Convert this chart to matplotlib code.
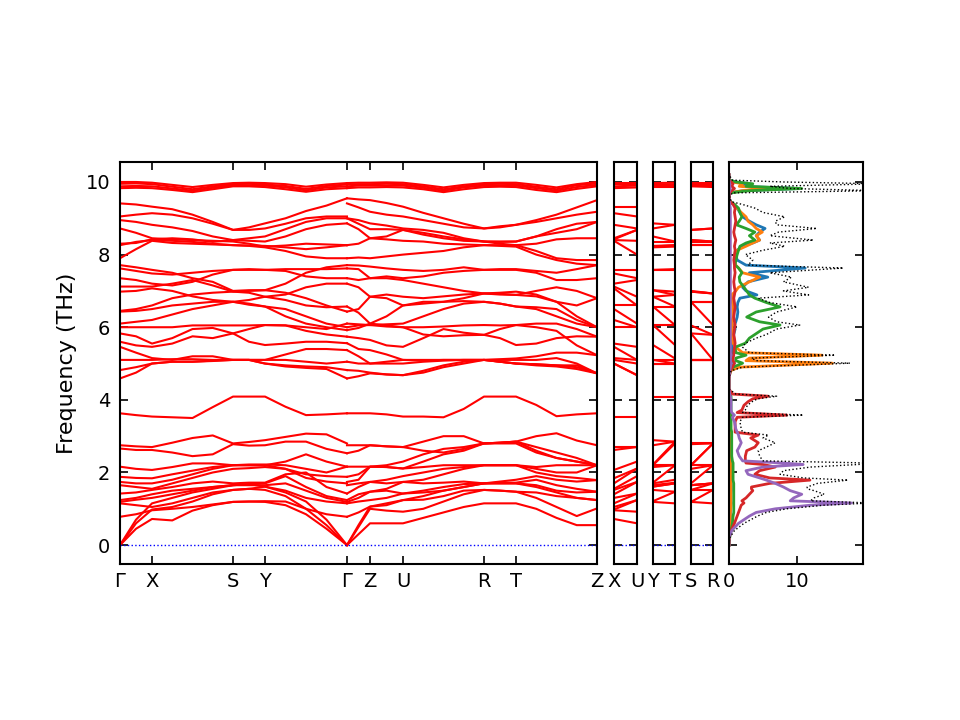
import numpy as np
import matplotlib
matplotlib.use('Agg')
import matplotlib.pyplot as plt

plt.rcParams['font.size'] = 13
plt.rcParams['axes.linewidth'] = 1.5

# k-path: segment lengths and number of sampled steps in each segment
seg_a = [1.0, 2.53, 1.0, 2.56]          # G-X, X-S, S-Y, Y-G
steps_a = [2, 4, 2, 4]
labels_a = ['Γ', 'X', 'S', 'Y', 'Γ']
seg_b = [0.72, 1.03, 2.53, 1.0, 2.53]   # G-Z, Z-U, U-R, R-T, T-Z
steps_b = [2, 2, 4, 2, 4]
labels_b = ['Γ', 'Z', 'U', 'R', 'T', 'Z']
side_len = 0.72
side_labels = [('X', 'U'), ('Y', 'T'), ('S', 'R')]
# which node of path A / path B is the start / end of each side panel
side_nodes = [(2, 4), (8, 10), (6, 8)]

# frequencies (THz) along G-X-S-Y-G, 13 nodes
bands_a = [
    [0, 0.45, 0.72, 0.68, 0.95, 1.1, 1.19, 1.2, 1.19, 1.1, 0.85, 0.45, 0],
    [0, 0.6, 0.98, 1.05, 1.2, 1.4, 1.52, 1.55, 1.52, 1.35, 1.0, 0.55, 0],
    [0, 0.7, 1.15, 1.3, 1.45, 1.55, 1.65, 1.68, 1.61, 1.45, 1.2, 0.7, 0],
    [0.78, 0.85, 0.96, 1.0, 1.05, 1.12, 1.19, 1.2, 1.21, 1.2, 1.0, 0.85, 0.78],
    [1.15, 1.1, 1.05, 1.15, 1.3, 1.45, 1.52, 1.55, 1.61, 1.5, 1.3, 1.2, 1.15],
    [1.19, 1.25, 1.3, 1.4, 1.5, 1.6, 1.65, 1.65, 1.65, 1.7, 1.5, 1.3, 1.19],
    [1.24, 1.3, 1.4, 1.5, 1.55, 1.6, 1.65, 1.68, 1.7, 1.9, 1.6, 1.35, 1.24],
    [1.42, 1.45, 1.52, 1.6, 1.7, 1.75, 1.7, 1.72, 1.72, 1.95, 2.0, 1.6, 1.42],
    [1.65, 1.6, 1.55, 1.7, 1.85, 2.0, 2.1, 2.12, 2.15, 2.1, 1.85, 1.75, 1.7],
    [1.74, 1.7, 1.7, 1.8, 1.95, 2.1, 2.2, 2.2, 2.2, 2.1, 1.95, 1.9, 1.88],
    [1.88, 1.85, 1.84, 1.95, 2.05, 2.15, 2.2, 2.22, 2.22, 2.2, 2.1, 2.0, 2.16],
    [2.16, 2.1, 2.07, 2.15, 2.25, 2.25, 2.2, 2.2, 2.2, 2.3, 2.5, 2.3, 2.16],
    [2.66, 2.62, 2.62, 2.55, 2.45, 2.5, 2.78, 2.74, 2.75, 2.85, 2.85, 2.65, 2.53],
    [2.75, 2.72, 2.7, 2.82, 2.95, 3.02, 2.8, 2.84, 2.89, 2.98, 3.07, 3.05, 2.8],
    [3.63, 3.58, 3.54, 3.52, 3.5, 3.8, 4.09, 4.09, 4.09, 3.81, 3.58, 3.6, 3.63],
    [4.59, 4.75, 5.0, 5.05, 5.05, 5.07, 5.1, 5.1, 5.0, 4.92, 4.88, 4.85, 4.59],
    [4.82, 4.9, 5.0, 5.05, 5.05, 5.08, 5.1, 5.1, 5.0, 4.95, 4.92, 4.9, 4.82],
    [5.1, 5.1, 5.1, 5.12, 5.12, 5.1, 5.1, 5.1, 5.1, 5.1, 5.05, 5.0, 5.05],
    [5.46, 5.3, 5.15, 5.1, 5.2, 5.2, 5.1, 5.1, 5.1, 5.25, 5.4, 5.4, 5.37],
    [5.6, 5.5, 5.46, 5.55, 5.75, 5.7, 5.83, 5.6, 5.51, 5.55, 5.6, 5.6, 5.56],
    [5.83, 5.75, 5.55, 5.7, 5.95, 5.98, 5.83, 5.95, 6.06, 6.05, 5.9, 5.8, 5.74],
    [6.0, 6.0, 6.0, 6.0, 6.05, 6.05, 6.05, 6.05, 6.06, 6.05, 6.0, 5.95, 6.1],
    [6.1, 6.15, 6.2, 6.35, 6.5, 6.6, 6.7, 6.62, 6.57, 6.3, 6.1, 6.0, 5.92],
    [6.43, 6.45, 6.5, 6.6, 6.65, 6.7, 6.7, 6.65, 6.57, 6.5, 6.3, 6.1, 6.0],
    [6.45, 6.5, 6.6, 6.8, 6.9, 6.95, 6.98, 7.0, 7.02, 6.95, 6.8, 6.6, 6.43],
    [6.98, 7.0, 7.07, 7.0, 6.85, 6.75, 6.7, 6.75, 6.84, 6.75, 6.6, 6.55, 6.57],
    [7.12, 7.12, 7.12, 7.2, 7.3, 7.15, 6.98, 6.95, 6.84, 6.9, 7.1, 7.2, 7.2],
    [7.35, 7.3, 7.2, 7.15, 7.25, 7.45, 7.58, 7.58, 7.58, 7.55, 7.4, 7.35, 7.35],
    [7.62, 7.55, 7.48, 7.45, 7.5, 7.55, 7.58, 7.6, 7.58, 7.6, 7.6, 7.6, 7.62],
    [7.71, 7.65, 7.58, 7.5, 7.35, 7.25, 7.0, 7.02, 7.02, 7.2, 7.5, 7.65, 7.71],
    [7.9, 8.15, 8.38, 8.32, 8.3, 8.28, 8.26, 8.25, 8.24, 8.2, 8.15, 8.2, 8.26],
    [8.26, 8.35, 8.4, 8.38, 8.35, 8.3, 8.26, 8.24, 8.2, 8.1, 7.95, 7.9, 7.9],
    [8.3, 8.32, 8.42, 8.45, 8.42, 8.35, 8.4, 8.45, 8.5, 8.7, 8.9, 9.0, 9.0],
    [8.72, 8.6, 8.45, 8.42, 8.4, 8.38, 8.36, 8.3, 8.22, 8.25, 8.3, 8.28, 8.26],
    [8.95, 8.9, 8.82, 8.75, 8.65, 8.5, 8.4, 8.38, 8.36, 8.5, 8.7, 8.82, 8.86],
    [9.05, 9.1, 9.14, 9.1, 9.0, 8.85, 8.68, 8.68, 8.72, 8.85, 9.0, 9.05, 9.05],
    [9.41, 9.38, 9.32, 9.25, 9.1, 8.9, 8.68, 8.75, 8.86, 9.0, 9.2, 9.35, 9.55],
    [9.83, 9.84, 9.83, 9.78, 9.72, 9.8, 9.88, 9.88, 9.86, 9.8, 9.73, 9.8, 9.83],
    [9.88, 9.89, 9.88, 9.82, 9.76, 9.84, 9.91, 9.91, 9.9, 9.85, 9.77, 9.85, 9.88],
    [9.95, 9.96, 9.94, 9.87, 9.8, 9.88, 9.94, 9.95, 9.93, 9.89, 9.81, 9.89, 9.93],
    [10.0, 10.0, 9.98, 9.92, 9.86, 9.92, 9.97, 9.98, 9.97, 9.94, 9.87, 9.93, 9.97],
]

# frequencies (THz) along G-Z-U-R-T-Z, 15 nodes
bands_b = [
    [0, 0.3, 0.6, 0.6, 0.6, 0.75, 0.9, 1.05, 1.15, 1.15, 1.15, 1.0, 0.75, 0.55, 0.55],
    [0, 0.5, 1.0, 0.95, 0.92, 1.0, 1.2, 1.4, 1.52, 1.5, 1.47, 1.3, 1.05, 0.8, 1.01],
    [0, 0.55, 1.06, 1.1, 1.24, 1.35, 1.5, 1.6, 1.7, 1.7, 1.7, 1.6, 1.45, 1.3, 1.24],
    [0.78, 0.9, 1.06, 1.15, 1.24, 1.25, 1.35, 1.5, 1.52, 1.5, 1.47, 1.45, 1.35, 1.3, 1.24],
    [1.15, 1.2, 1.24, 1.3, 1.42, 1.45, 1.5, 1.6, 1.7, 1.7, 1.7, 1.65, 1.5, 1.45, 1.47],
    [1.19, 1.3, 1.47, 1.5, 1.42, 1.5, 1.6, 1.68, 1.7, 1.72, 1.72, 1.8, 1.65, 1.55, 1.47],
    [1.24, 1.4, 1.47, 1.55, 1.74, 1.7, 1.72, 1.75, 1.7, 1.75, 1.8, 1.9, 1.8, 1.75, 1.79],
    [1.42, 1.6, 1.74, 1.7, 1.74, 1.8, 1.95, 2.1, 2.2, 2.2, 2.2, 2.0, 1.9, 1.85, 1.79],
    [1.65, 1.7, 1.74, 1.8, 1.9, 2.0, 2.1, 2.15, 2.2, 2.2, 2.2, 2.1, 2.0, 2.0, 2.2],
    [1.74, 1.8, 2.16, 2.15, 2.11, 2.15, 2.2, 2.2, 2.2, 2.2, 2.2, 2.15, 2.2, 2.2, 2.2],
    [1.88, 1.95, 2.16, 2.15, 2.11, 2.3, 2.5, 2.6, 2.8, 2.82, 2.85, 2.6, 2.4, 2.3, 2.2],
    [2.16, 2.16, 2.16, 2.2, 2.3, 2.5, 2.65, 2.7, 2.8, 2.8, 2.8, 2.55, 2.4, 2.3, 2.2],
    [2.53, 2.6, 2.75, 2.72, 2.7, 2.6, 2.55, 2.65, 2.8, 2.82, 2.85, 2.7, 2.55, 2.4, 2.2],
    [2.75, 2.75, 2.75, 2.72, 2.7, 2.85, 3.0, 3.0, 2.8, 2.82, 2.85, 3.0, 3.08, 2.88, 2.75],
    [3.63, 3.63, 3.63, 3.6, 3.54, 3.54, 3.52, 3.75, 4.09, 4.09, 4.09, 3.86, 3.55, 3.6, 3.63],
    [4.59, 4.65, 4.73, 4.7, 4.68, 4.75, 4.9, 5.0, 5.1, 5.05, 5.0, 4.95, 4.92, 4.85, 4.73],
    [4.82, 4.8, 4.75, 4.7, 4.68, 4.8, 4.95, 5.05, 5.1, 5.05, 5.0, 4.98, 4.95, 4.9, 4.73],
    [5.05, 5.0, 5.0, 5.0, 5.0, 5.05, 5.08, 5.1, 5.1, 5.05, 5.0, 4.98, 4.95, 4.95, 4.73],
    [5.37, 5.2, 5.0, 5.05, 5.1, 5.08, 5.1, 5.1, 5.1, 5.1, 5.1, 5.1, 5.15, 5.0, 4.73],
    [5.56, 5.4, 5.37, 5.25, 5.1, 5.1, 5.1, 5.1, 5.1, 5.12, 5.14, 5.2, 5.3, 5.3, 5.23],
    [5.74, 5.7, 5.65, 5.5, 5.46, 5.7, 5.95, 5.85, 5.79, 5.95, 6.06, 6.0, 5.9, 5.5, 5.23],
    [6.1, 6.08, 6.06, 6.02, 6.0, 5.8, 5.75, 5.78, 5.79, 5.7, 5.51, 5.55, 5.7, 5.75, 5.74],
    [5.92, 5.98, 6.1, 6.05, 6.0, 6.0, 6.02, 6.05, 6.06, 6.05, 6.06, 6.1, 6.1, 5.95, 5.74],
    [6.0, 6.05, 6.06, 6.08, 6.1, 6.3, 6.5, 6.65, 6.7, 6.65, 6.57, 6.55, 6.5, 6.2, 6.0],
    [6.43, 6.5, 6.84, 6.8, 6.6, 6.65, 6.7, 6.8, 6.93, 6.95, 6.98, 6.9, 6.7, 6.6, 6.8],
    [6.57, 6.4, 6.1, 6.3, 6.6, 6.7, 6.7, 6.72, 6.7, 6.65, 6.57, 6.5, 6.3, 6.1, 6.0],
    [7.2, 7.1, 6.84, 6.9, 6.84, 6.8, 6.85, 6.9, 6.93, 6.92, 6.89, 6.85, 6.7, 6.3, 6.0],
    [7.35, 7.3, 7.35, 7.35, 7.3, 7.2, 7.1, 7.0, 6.93, 6.9, 6.89, 7.0, 7.1, 7.0, 6.8],
    [7.62, 7.6, 7.35, 7.4, 7.35, 7.4, 7.5, 7.55, 7.58, 7.58, 7.58, 7.5, 7.3, 7.3, 7.35],
    [7.71, 7.7, 7.67, 7.62, 7.58, 7.55, 7.58, 7.65, 7.58, 7.6, 7.6, 7.55, 7.5, 7.6, 7.71],
    [7.9, 7.92, 7.9, 7.95, 8.0, 8.05, 8.1, 8.2, 8.26, 8.24, 8.22, 8.0, 7.85, 7.75, 7.71],
    [8.26, 8.3, 8.45, 8.42, 8.38, 8.36, 8.3, 8.28, 8.26, 8.26, 8.26, 8.1, 7.9, 7.85, 7.85],
    [9.0, 8.85, 8.7, 8.7, 8.68, 8.55, 8.45, 8.38, 8.36, 8.35, 8.36, 8.5, 8.6, 8.7, 8.9],
    [8.86, 8.7, 8.45, 8.5, 8.68, 8.6, 8.5, 8.42, 8.36, 8.3, 8.26, 8.3, 8.42, 8.45, 8.45],
    [9.0, 8.95, 8.86, 8.8, 8.72, 8.68, 8.6, 8.45, 8.36, 8.36, 8.36, 8.5, 8.7, 8.85, 8.9],
    [9.41, 9.3, 9.18, 9.1, 9.05, 8.95, 8.85, 8.75, 8.72, 8.78, 8.82, 8.9, 9.0, 9.1, 9.18],
    [9.55, 9.52, 9.5, 9.42, 9.32, 9.15, 9.0, 8.85, 8.72, 8.75, 8.82, 8.95, 9.1, 9.3, 9.5],
    [9.83, 9.85, 9.85, 9.86, 9.85, 9.8, 9.72, 9.8, 9.86, 9.87, 9.86, 9.78, 9.72, 9.81, 9.88],
    [9.88, 9.9, 9.9, 9.9, 9.9, 9.84, 9.76, 9.85, 9.9, 9.91, 9.9, 9.83, 9.76, 9.86, 9.92],
    [9.93, 9.94, 9.94, 9.95, 9.94, 9.88, 9.8, 9.88, 9.94, 9.95, 9.94, 9.87, 9.8, 9.91, 9.96],
    [9.97, 9.98, 9.98, 9.99, 9.98, 9.92, 9.85, 9.92, 9.97, 9.98, 9.98, 9.92, 9.85, 9.94, 10.0],
]

# phonon DOS (frequency in THz, DOS in states/THz)
dos_freq = [0, 0.2, 0.4, 0.6, 0.8, 0.9, 1.0, 1.1, 1.16, 1.22,
            1.3, 1.4, 1.5, 1.55, 1.6, 1.7, 1.79, 1.85, 1.95, 2.05,
            2.15, 2.22, 2.26, 2.32, 2.45, 2.6, 2.7, 2.82, 2.95, 3.03,
            3.11, 3.2, 3.4, 3.52, 3.58, 3.65, 3.72, 3.85, 3.95, 4.03,
            4.1, 4.16, 4.3, 4.6, 4.8, 4.9, 5.01, 5.08, 5.15, 5.23,
            5.3, 5.45, 5.56, 5.7, 5.8, 5.95, 6.06, 6.15, 6.28, 6.42,
            6.56, 6.68, 6.8, 6.89, 7.0, 7.1, 7.25, 7.38, 7.5, 7.63,
            7.71, 7.85, 8.0, 8.12, 8.23, 8.32, 8.4, 8.52, 8.62, 8.72,
            8.82, 8.92, 9.04, 9.16, 9.28, 9.38, 9.45, 9.55, 9.7, 9.76,
            9.82, 9.88, 9.95, 10.0, 10.05, 10.2]
dos_total = [0, 0.1, 0.8, 2.2, 4.2, 5.5, 8.5, 14.0, 21.0, 12.0,
             12.5, 14.0, 12.5, 11.5, 11.5, 13.0, 17.5, 11.0, 7.5, 8.0,
             12.0, 19.0, 21.0, 5.0, 4.5, 4.3, 5.5, 6.8, 5.0, 5.8,
             2.0, 1.8, 1.6, 2.0, 10.9, 2.0, 2.4, 2.7, 3.4, 4.2,
             7.0, 1.0, 0.0, 0.0, 0.3, 2.0, 17.8, 4.0, 3.3, 15.6,
             3.0, 2.0, 2.4, 4.0, 5.5, 7.0, 10.4, 7.0, 5.8, 7.0,
             10.0, 6.0, 4.3, 11.7, 8.0, 11.7, 8.0, 9.2, 6.0, 16.8,
             2.8, 3.5, 2.4, 5.0, 8.2, 6.0, 12.4, 6.0, 7.3, 12.9,
             7.0, 6.8, 8.2, 5.0, 3.8, 2.0, 0.5, 0.0, 0.5, 22.0,
             9.0, 6.0, 22.0, 8.0, 0.5, 0.0]
dos_p1 = [0, 0.05, 0.1, 0.15, 0.2, 0.2, 0.2, 0.25, 0.3, 0.25,
          0.25, 0.25, 0.3, 0.3, 0.3, 0.3, 0.3, 0.3, 0.3, 0.3,
          0.3, 0.35, 0.35, 0.3, 0.2, 0.2, 0.2, 0.25, 0.2, 0.2,
          0.15, 0.15, 0.15, 0.15, 0.2, 0.15, 0.15, 0.15, 0.15, 0.2,
          0.2, 0.1, 0.0, 0.0, 0.1, 0.3, 0.8, 0.4, 0.4, 0.6,
          0.4, 0.4, 0.5, 0.6, 0.7, 0.9, 0.8, 1.0, 1.2, 1.3,
          1.2, 1.3, 1.6, 4.1, 2.5, 2.0, 2.8, 5.7, 3.0, 11.2,
          2.5, 1.2, 1.0, 1.2, 2.0, 3.5, 4.5, 4.0, 4.5, 5.3,
          4.0, 3.0, 2.0, 1.6, 1.2, 0.8, 0.3, 0.0, 0.1, 2.0,
          10.3, 2.0, 3.0, 1.0, 0.1, 0.0]
dos_p2 = [0, 0.05, 0.1, 0.15, 0.2, 0.2, 0.25, 0.3, 0.3, 0.3,
          0.3, 0.3, 0.3, 0.3, 0.3, 0.3, 0.3, 0.3, 0.3, 0.3,
          0.3, 0.3, 0.3, 0.3, 0.25, 0.25, 0.25, 0.25, 0.25, 0.25,
          0.2, 0.2, 0.2, 0.2, 0.2, 0.2, 0.2, 0.2, 0.2, 0.2,
          0.2, 0.1, 0.0, 0.0, 0.2, 1.5, 15.2, 2.5, 3.0, 13.7,
          2.0, 1.0, 0.6, 0.4, 0.4, 0.4, 0.5, 0.4, 0.6, 0.6,
          0.6, 0.5, 0.5, 0.4, 1.0, 1.4, 3.0, 4.5, 2.0, 1.4,
          1.0, 0.8, 0.9, 1.2, 2.5, 3.5, 4.5, 4.0, 4.9, 4.0,
          3.5, 2.8, 2.5, 1.8, 1.2, 0.8, 0.2, 0.0, 0.1, 2.0,
          6.0, 1.5, 2.0, 0.5, 0.05, 0.0]
dos_p3 = [0, 0.1, 0.3, 0.5, 0.6, 0.7, 0.7, 0.7, 0.7, 0.7,
          0.7, 0.7, 0.7, 0.7, 0.7, 0.7, 0.6, 0.6, 0.6, 0.6,
          0.6, 0.6, 0.6, 0.5, 0.4, 0.4, 0.4, 0.4, 0.4, 0.4,
          0.4, 0.3, 0.3, 0.3, 0.4, 0.3, 0.3, 0.3, 0.3, 0.3,
          0.3, 0.1, 0.0, 0.0, 0.2, 0.6, 2.0, 1.0, 1.0, 2.5,
          1.0, 0.9, 2.4, 3.0, 3.8, 5.0, 7.5, 4.5, 2.6, 4.0,
          7.5, 5.5, 3.8, 3.0, 2.6, 2.2, 1.6, 1.5, 1.9, 1.4,
          0.9, 1.0, 1.2, 1.4, 1.6, 2.5, 3.8, 3.0, 3.8, 2.5,
          1.1, 1.5, 1.9, 1.6, 1.4, 0.8, 0.2, 0.0, 0.1, 3.0,
          10.7, 2.5, 3.5, 1.0, 0.1, 0.0]
dos_p4 = [0, 0.05, 0.3, 0.8, 1.2, 1.4, 1.6, 1.8, 2.2, 1.9,
          2.5, 3.0, 3.5, 3.3, 3.3, 6.0, 11.9, 6.0, 3.8, 4.5,
          6.8, 5.0, 2.5, 2.4, 2.4, 2.6, 3.8, 4.3, 3.2, 4.3,
          0.9, 0.9, 0.9, 1.2, 8.5, 1.2, 1.9, 2.2, 2.8, 3.5,
          5.8, 0.5, 0.0, 0.0, 0.2, 0.5, 0.8, 0.6, 0.6, 0.7,
          0.7, 0.8, 0.9, 0.8, 0.7, 0.8, 0.9, 0.8, 0.7, 0.8,
          0.9, 0.8, 0.7, 0.8, 0.9, 0.8, 0.7, 0.8, 0.9, 0.8,
          0.8, 0.7, 0.8, 0.9, 0.8, 0.9, 1.0, 0.8, 0.7, 0.8,
          0.9, 1.0, 0.9, 0.8, 0.9, 0.6, 0.2, 0.0, 0.1, 0.4,
          0.8, 0.4, 0.6, 0.3, 0.0, 0.0]
dos_p5 = [0, 0.0, 0.4, 1.4, 3.0, 4.0, 6.8, 12.0, 18.0, 9.0,
          9.5, 10.7, 9.0, 8.5, 8.0, 6.8, 5.5, 4.5, 2.8, 2.5,
          5.0, 10.9, 8.0, 2.0, 1.5, 1.2, 1.5, 1.8, 1.5, 1.4,
          1.2, 1.0, 0.8, 0.5, 0.8, 0.4, 0.3, 0.3, 0.3, 0.3,
          0.2, 0.1, 0.0, 0.0, 0.1, 0.2, 0.3, 0.2, 0.2, 0.3,
          0.2, 0.2, 0.2, 0.2, 0.2, 0.2, 0.2, 0.2, 0.2, 0.2,
          0.2, 0.2, 0.2, 0.2, 0.2, 0.2, 0.2, 0.2, 0.2, 0.2,
          0.2, 0.2, 0.2, 0.2, 0.2, 0.2, 0.2, 0.2, 0.2, 0.2,
          0.2, 0.2, 0.2, 0.2, 0.2, 0.1, 0.05, 0.0, 0.0, 0.1,
          0.2, 0.1, 0.1, 0.05, 0.0, 0.0]
dos_proj = [dos_p1, dos_p2, dos_p3, dos_p4, dos_p5]
dos_colors = ['C0', 'C1', 'C2', 'C3', 'C4']

ylim = (-0.52, 10.55)


def node_positions(seg, steps):
    xs = []; ticks = [0.0]; start = 0.0
    for L, n in zip(seg, steps):
        xs.extend(np.linspace(start, start + L, n + 1)[:-1])
        start += L; ticks.append(start)
    xs.append(start)
    return np.array(xs), ticks


xa, ticks_a = node_positions(seg_a, steps_a)
xb, ticks_b = node_positions(seg_b, steps_b)
xb = xb + ticks_a[-1]; ticks_b = [t + ticks_a[-1] for t in ticks_b]
xend = ticks_b[-1]


def style(ax):
    ax.tick_params(direction='in', length=5.5, width=1.2, top=True, right=True)
    ax.tick_params(axis='x', pad=6, labelsize=14)
    ax.tick_params(axis='y', pad=7, labelsize=14)
    ax.set_ylim(*ylim)
    ax.set_yticks([0, 2, 4, 6, 8, 10])


fig = plt.figure(figsize=(9.6, 7.2), dpi=100)
W, H = 960., 720.
def box(x0, x1, y0=162, y1=564):
    return [x0 / W, 1 - y1 / H, (x1 - x0) / W, (y1 - y0) / H]

ax = fig.add_axes(box(120, 597))
for b in bands_a:
    ax.plot(xa, b, color='r', lw=1.5)
for b in bands_b:
    ax.plot(xb, b, color='r', lw=1.5)
ax.plot([0, xend], [0, 0], 'b:', lw=1)
ax.set_xlim(0, xend)
style(ax)
ax.set_xticks(ticks_a + ticks_b[1:])
ax.set_xticklabels(labels_a + labels_b[1:])
ax.set_ylabel('Frequency (THz)', fontsize=16, labelpad=6)

side_x = [(614, 637), (653, 675), (691, 713)]
for (x0, x1), (na, nb), (l0, l1) in zip(side_x, side_nodes, side_labels):
    sa = fig.add_axes(box(x0, x1))
    start = sorted(b[na] for b in bands_a)
    end = sorted(b[nb] for b in bands_b)
    for f0, f1 in zip(start, end):
        sa.plot([0, side_len], [f0, f1], color='r', lw=1.5)
    sa.plot([0, side_len], [0, 0], 'b:', lw=1)
    sa.set_xlim(0, side_len)
    style(sa)
    sa.set_yticklabels([])
    sa.set_xticks([0, side_len])
    sa.set_xticklabels([l0, l1])

ad = fig.add_axes(box(729, 863))
for vals, c in zip(dos_proj, dos_colors):
    ad.plot(vals, dos_freq, color=c, lw=2)
ad.plot(dos_total, dos_freq, 'k:', lw=1)
ad.set_xlim(0, 19.7)
style(ad)
ad.set_yticklabels([])
ad.set_xticks([0, 10])

fig.savefig('out.png', dpi=100)
